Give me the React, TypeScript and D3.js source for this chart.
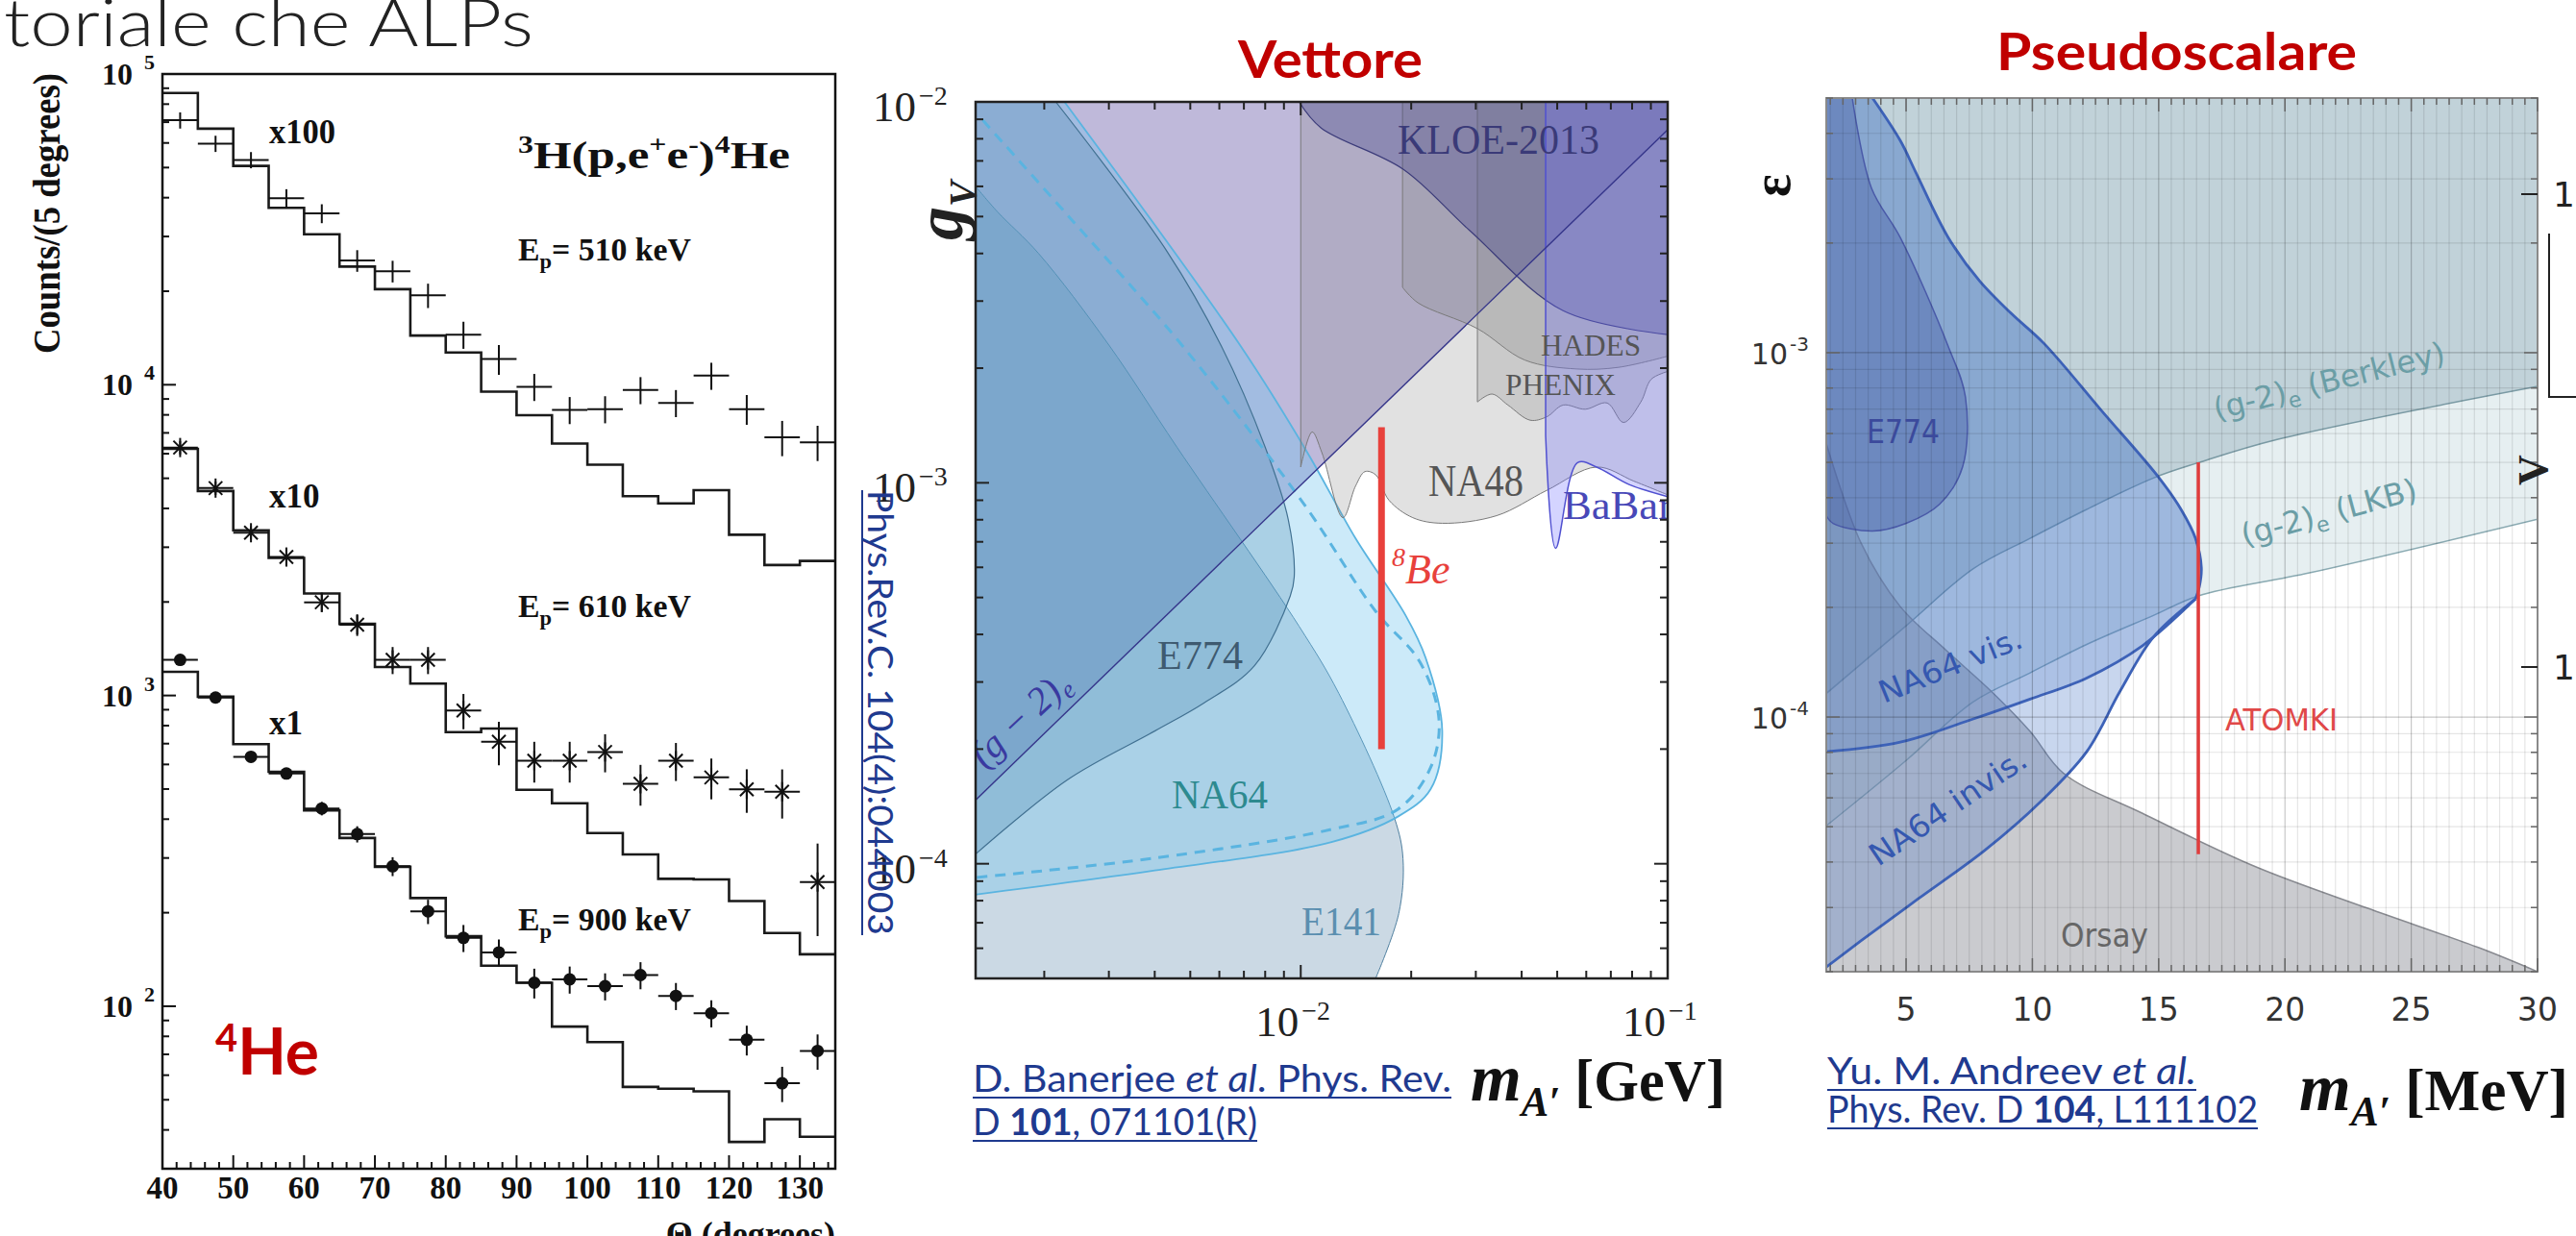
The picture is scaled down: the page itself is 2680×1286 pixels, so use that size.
import React from 'react'
import * as d3 from 'd3'

type Pt = [number, number]

const W = 2680
const H = 1286

// ---------- left panel: 3H(p,e+e-)4He angular distributions ----------
const thetaEdges = [40, 45, 50, 55, 60, 65, 70, 75, 80, 85, 90, 95, 100, 105, 110, 115, 120, 125, 130, 135]
const thetaCenters = [42.5, 47.5, 52.5, 57.5, 62.5, 67.5, 72.5, 77.5, 82.5, 87.5, 92.5, 97.5, 102.5, 107.5, 112.5, 117.5, 122.5, 127.5, 132.5]

// x100 (Ep = 510 keV)
const hist100 = [86900, 66700, 50600, 37100, 30500, 24000, 20300, 14400, 12700, 9500, 7980, 6470, 5530, 4380, 4150, 4580, 3290, 2630, 2710]
const data100 = [71000, 59700, 52900, 39800, 35600, 25100, 23200, 19400, 14500, 12100, 9850, 8300, 8350, 9620, 8740, 10700, 8350, 6770, 6530]
const err100 = [0.06, 0.06, 0.06, 0.07, 0.07, 0.08, 0.08, 0.09, 0.1, 0.11, 0.1, 0.1, 0.1, 0.1, 0.1, 0.1, 0.11, 0.13, 0.13]
// x10 (Ep = 610 keV)
const hist10 = [6220, 4550, 3400, 2770, 2130, 1700, 1235, 1092, 762, 783, 497, 450, 361, 308, 257, 256, 218, 172, 147]
const data10 = [6280, 4650, 3340, 2790, 1995, 1690, 1302, 1302, 895, 710, 617, 617, 658, 520, 617, 545, 499, 490, 251]
const err10 = [0.05, 0.05, 0.05, 0.06, 0.07, 0.08, 0.1, 0.1, 0.13, 0.16, 0.15, 0.15, 0.14, 0.15, 0.14, 0.15, 0.16, 0.18, 0.33]
// x1 (Ep = 900 keV)
const hist1 = [1192, 991, 697, 568, 427, 348, 281, 223, 168, 135, 119, 86, 76.7, 55, 54.3, 53.2, 36.6, 43.3, 38]
const data1 = [1302, 985, 635, 561, 433, 358, 282, 202, 166, 149, 119, 122, 116, 126, 108, 95, 78, 56.5, 71.8]
const err1 = [0.03, 0.03, 0.04, 0.04, 0.05, 0.06, 0.07, 0.09, 0.1, 0.1, 0.11, 0.1, 0.1, 0.1, 0.1, 0.1, 0.11, 0.13, 0.13]

// ---------- middle panel: vector (m [GeV], g_V) ----------
const g2Line: Pt[] = [[0.0013, 1.47e-4], [0.1, 8.45e-3]]
const e141Edge: Pt[] = [[0.0013, 6.0e-3], [0.00149, 5.15e-3], [0.00193, 4.0e-3], [0.003, 2.3e-3], [0.0046, 1.24e-3], [0.0099, 4.2e-4], [0.0127, 2.8e-4], [0.018, 1.32e-4], [0.019, 1.03e-4], [0.0185, 7.4e-5], [0.016, 5e-5]]
const e774Edge: Pt[] = [[0.00215, 1e-2], [0.0043, 4.08e-3], [0.00607, 2.29e-3], [0.008, 1.24e-3], [0.00925, 8.0e-4], [0.0096, 5.66e-4], [0.00936, 5.04e-4], [0.00748, 3.31e-4], [0.00547, 2.65e-4], [0.004, 2.23e-4], [0.00231, 1.66e-4], [0.0013, 1.06e-4]]
const na64Edge: Pt[] = [[0.00227, 1e-2], [0.00685, 2.29e-3], [0.01043, 1.2e-3], [0.0141, 7.15e-4], [0.0193, 4.49e-4], [0.0219, 3.47e-4], [0.0243, 2.23e-4], [0.0226, 1.57e-4], [0.0184, 1.33e-4], [0.01213, 1.14e-4], [0.004, 9.6e-5], [0.0013, 8.3e-5]]
const na64Proj: Pt[] = [[0.00136, 8.95e-3], [0.00236, 4.94e-3], [0.00476, 2.29e-3], [0.0102, 8.8e-4], [0.016, 4.6e-4], [0.0211, 3.39e-4], [0.0238, 2.4e-4], [0.0226, 1.79e-4], [0.0184, 1.39e-4], [0.0121, 1.23e-4], [0.004, 1.035e-4], [0.0013, 9.2e-5]]
const na48Edge: Pt[] = [[0.01, 1.1e-3], [0.01074, 1.36e-3], [0.01142, 1.2e-3], [0.01303, 8.1e-4], [0.0141, 9.8e-4], [0.01496, 1.07e-3], [0.016, 1.05e-3], [0.0174, 9.0e-4], [0.0202, 8.1e-4], [0.0243, 7.83e-4], [0.0342, 8.2e-4], [0.0468, 9.55e-4], [0.064, 1.1e-3], [0.0809, 1.01e-3], [0.1, 9.3e-4]]
const hadesEdge: Pt[] = [[0.01894, 3.26e-3], [0.02085, 2.97e-3], [0.0303, 2.54e-3], [0.0408, 2.1e-3], [0.0564, 1.99e-3], [0.0735, 2.01e-3], [0.1, 2.15e-3]]
const phenixEdge: Pt[] = [[0.0303, 1.63e-3], [0.0332, 1.71e-3], [0.0367, 1.6e-3], [0.0422, 1.46e-3], [0.0468, 1.49e-3], [0.0519, 1.6e-3], [0.0596, 1.56e-3], [0.0684, 1.62e-3], [0.0758, 1.44e-3], [0.0845, 1.63e-3], [0.0902, 1.87e-3], [0.1, 1.96e-3]]
const babarEdge: Pt[] = [[0.0465, 1.33e-3], [0.0495, 6.73e-4], [0.0568, 1.13e-3], [0.064, 1.1e-3], [0.0785, 9.9e-4], [0.1, 9.2e-4]]
const kloeEdge: Pt[] = [[0.0099, 1e-2], [0.01135, 8.55e-3], [0.019, 6.66e-3], [0.0289, 4.59e-3], [0.0519, 2.83e-3], [0.1, 2.45e-3]]
const be8 = { mass: 0.0166, low: 2.0e-4, high: 1.4e-3 }

// ---------- right panel: pseudoscalar (m [MeV], epsilon) ----------
const lkbEdge: Pt[] = [[1.84, 5.03e-5], [5.0, 7.6e-5], [7.65, 1.1e-4], [9.89, 1.32e-4], [12.13, 1.58e-4], [14.79, 1.9e-4], [16.57, 2.15e-4], [21.01, 2.49e-4], [30, 3.49e-4]]
const berkleyEdge: Pt[] = [[1.84, 1.16e-4], [5.0, 1.78e-4], [7.65, 2.55e-4], [9.89, 3.09e-4], [12.13, 3.71e-4], [14.79, 4.53e-4], [16.57, 4.99e-4], [19.69, 5.78e-4], [30, 8.08e-4]]
const orsayEdge: Pt[] = [[1.84, 5.64e-4], [3.21, 3.01e-4], [4.77, 2.01e-4], [6.56, 1.53e-4], [8.35, 1.18e-4], [9.91, 9.13e-5], [11.24, 7.0e-5], [14.36, 5.44e-5], [18.81, 3.89e-5], [23.25, 2.99e-5], [27.73, 2.32e-5], [30, 2.0e-5]]
const na64Big: Pt[] = [[3.67, 5.0e-3], [4.77, 3.82e-3], [5.38, 3.13e-3], [6.67, 2.07e-3], [7.92, 1.57e-3], [9.17, 1.28e-3], [10.46, 1.06e-3], [12.74, 6.93e-4], [15.02, 4.53e-4], [15.89, 3.71e-4], [16.46, 3.09e-4], [16.69, 2.57e-4], [16.61, 2.28e-4], [16.46, 2.11e-4]]
const visLine: Pt[] = [[16.46, 2.11e-4], [14.36, 1.57e-4], [12.15, 1.28e-4], [9.91, 1.12e-4], [7.66, 9.88e-5], [4.77, 8.53e-5], [1.84, 8.03e-5]]
const invisLine: Pt[] = [[16.46, 2.11e-4], [14.8, 1.66e-4], [13.48, 1.18e-4], [12.15, 8.03e-5], [10.36, 5.89e-5], [8.12, 4.31e-5], [5.45, 3.16e-5], [3.21, 2.43e-5], [1.84, 2.06e-5]]
const e774Right: Pt[] = [[2.87, 5e-3], [3.63, 2.83e-3], [4.77, 2.07e-3], [6.67, 1.04e-3], [7.35, 7.55e-4], [7.24, 4.87e-4], [6.33, 3.84e-4], [5.0, 3.4e-4], [3.67, 3.24e-4], [2.11, 3.4e-4], [1.84, 3.57e-4]]
const atomki = { mass: 16.57, low: 4.2e-5, high: 5.0e-4 }
const massTicksMeV = [5, 10, 15, 20, 25, 30]

const mantissas = [1, 2, 3, 4, 5, 6, 7, 8, 9]

function logTicks(lo: number, hi: number) {
  const out: { v: number; major: boolean }[] = []
  for (let e = Math.floor(Math.log10(lo)); e <= Math.ceil(Math.log10(hi)); e++) {
    for (const m of mantissas) {
      const v = m * Math.pow(10, e)
      if (v >= lo * 0.999 && v <= hi * 1.001) out.push({ v, major: m === 1 })
    }
  }
  return out
}

function regionMaker(xs: any, ys: any) {
  const ln = d3.line<Pt>().x((d) => xs(d[0])).y((d) => ys(d[1])).curve(d3.curveCatmullRom.alpha(0.5))
  const region = (segs: Pt[][], corners: Pt[]) => {
    let d = segs.map((s, i) => (i === 0 ? ln(s) || '' : (ln(s) || '').replace(/^M/, 'L'))).join('')
    d += corners.map((c) => `L${xs(c[0])},${ys(c[1])}`).join('')
    return d + 'Z'
  }
  return { ln, region }
}

const SERIF = 'Liberation Serif, Times New Roman, serif'
const SANS = 'DejaVu Sans, sans-serif'
const GOTHIC = 'Lato, Open Sans, sans-serif'
const NAVY = '#1f3a8f'

function LeftPanel() {
  const x = d3.scaleLinear().domain([40, 135]).range([169, 869])
  const y = d3.scaleLog().domain([30, 1e5]).range([1216, 77])
  const step = d3.line<Pt>().x((d) => x(d[0])).y((d) => y(d[1])).curve(d3.curveStepAfter)
  const series = [
    { hist: hist100, pts: data100, err: err100, marker: 'plus' },
    { hist: hist10, pts: data10, err: err10, marker: 'star' },
    { hist: hist1, pts: data1, err: err1, marker: 'dot' },
  ]
  const yt = logTicks(30, 1e5)
  const [x0, x1] = x.range()
  const [yb, ytop] = y.range()
  return (
    <g fontFamily={SERIF} fontWeight="bold" fill="#111">
      {series.map((s, si) => (
        <g key={si}>
          <path
            d={step(thetaEdges.map((e, i) => [e, s.hist[Math.min(i, s.hist.length - 1)]] as Pt)) || ''}
            fill="none"
            stroke="#1a1a1a"
            strokeWidth={2.6}
          />
          {thetaCenters.map((t, i) => {
            const cx = x(t)
            const cy = y(s.pts[i])
            return (
              <g key={i} stroke="#111" strokeWidth={2}>
                <line x1={x(t - 2.5)} x2={x(t + 2.5)} y1={cy} y2={cy} />
                <line x1={cx} x2={cx} y1={y(s.pts[i] * (1 + s.err[i]))} y2={y(s.pts[i] * (1 - s.err[i]))} />
                {s.marker === 'star' && (
                  <>
                    <line x1={cx} x2={cx} y1={cy - 10} y2={cy + 10} />
                    <line x1={cx - 7} y1={cy - 7} x2={cx + 7} y2={cy + 7} />
                    <line x1={cx - 7} y1={cy + 7} x2={cx + 7} y2={cy - 7} />
                  </>
                )}
                {s.marker === 'dot' && <circle cx={cx} cy={cy} r={6.5} fill="#111" stroke="none" />}
              </g>
            )
          })}
        </g>
      ))}
      <rect x={x0} y={ytop} width={x1 - x0} height={yb - ytop} fill="none" stroke="#111" strokeWidth={2.5} />
      {yt.map((t, i) => (
        <line key={i} x1={x0} x2={x0 + (t.major ? 14 : 7)} y1={y(t.v)} y2={y(t.v)} stroke="#111" strokeWidth={2} />
      ))}
      {d3.range(40, 135, 2).map((v) => (
        <line key={v} x1={x(v)} x2={x(v)} y1={yb} y2={yb - (v % 10 === 0 ? 14 : 7)} stroke="#111" strokeWidth={2} />
      ))}
      {yt.filter((t) => t.major).map((t) => (
        <g key={t.v}>
          <text x={138} y={y(t.v) + 11} fontSize={32} textAnchor="end">10</text>
          <text x={150} y={y(t.v) - 5} fontSize={22}>{Math.round(Math.log10(t.v))}</text>
        </g>
      ))}
      {d3.range(40, 131, 10).map((v) => (
        <text key={v} x={x(v)} y={1247} fontSize={33} textAnchor="middle">{v}</text>
      ))}
      <text transform="translate(62,222) rotate(-90)" fontSize={40} textAnchor="middle" textLength={292} lengthAdjust="spacingAndGlyphs">
        Counts/(5 degrees)
      </text>
      <text x={869} y={1296} fontSize={36} textAnchor="end">Θ (degrees)</text>
      <text x={280} y={149} fontSize={35} textLength={69} lengthAdjust="spacingAndGlyphs">x100</text>
      <text x={280} y={528} fontSize={35}>x10</text>
      <text x={280} y={764} fontSize={35}>x1</text>
      <text x={539} y={175} fontSize={40} textLength={283} lengthAdjust="spacingAndGlyphs">
        <tspan fontSize={25} dy={-16}>3</tspan>
        <tspan dy={16}>H(p,e</tspan>
        <tspan fontSize={25} dy={-16}>+</tspan>
        <tspan dy={16}>e</tspan>
        <tspan fontSize={25} dy={-16}>-</tspan>
        <tspan dy={16}>)</tspan>
        <tspan fontSize={25} dy={-16}>4</tspan>
        <tspan dy={16}>He</tspan>
      </text>
      {[
        { t: 'Ep= 510 keV', yy: 271 },
        { t: 'Ep= 610 keV', yy: 642 },
        { t: 'Ep= 900 keV', yy: 968 },
      ].map((l) => (
        <text key={l.t} x={539} y={l.yy} fontSize={33} textLength={180} lengthAdjust="spacingAndGlyphs">
          E<tspan fontSize={22} dy={8}>p</tspan>
          <tspan dy={-8}>{l.t.slice(2)}</tspan>
        </text>
      ))}
      <text x={224} y={1118} fontFamily={GOTHIC} fontWeight="bold" fill="#c00000" fontSize={66} textLength={108} lengthAdjust="spacingAndGlyphs">
        <tspan fontSize={40} dy={-24}>4</tspan>
        <tspan dy={24}>He</tspan>
      </text>
    </g>
  )
}

function MiddlePanel() {
  const x = d3.scaleLog().domain([0.0013, 0.1]).range([1015, 1735])
  const y = d3.scaleLog().domain([5e-5, 1e-2]).range([1018, 106])
  const { ln, region } = regionMaker(x, y)
  const [x0, x1] = x.range()
  const [yb, yt] = y.range()
  const XL = 0.001
  const XR = 0.12
  const YT = 0.012
  const YB = 4e-5
  const xt = logTicks(0.0013, 0.1)
  const ytk = logTicks(5e-5, 1e-2)
  const sup = (v: number) => '−' + Math.round(-Math.log10(v))
  return (
    <g>
      <defs>
        <clipPath id="clipMid">
          <rect x={x0} y={yt} width={x1 - x0} height={yb - yt} />
        </clipPath>
      </defs>
      <rect x={x0} y={yt} width={x1 - x0} height={yb - yt} fill="#fff" />
      <g clipPath="url(#clipMid)">
        <path d={region([g2Line], [[0.1, YT], [XL, YT]])} fill="#7f73b5" fillOpacity={0.5} />
        <path d={region([e141Edge], [[XL, YB], [XL, 6e-3]])} fill="#6f97b3" fillOpacity={0.36} stroke="#4f7f9f" strokeWidth={1} />
        <path d={region([e774Edge], [[XL, 1.06e-4], [XL, YT], [0.00215, YT]])} fill="#2f5f86" fillOpacity={0.25} stroke="#2a4560" strokeWidth={1.2} />
        <path d={region([na64Edge], [[XL, 8.3e-5], [XL, YT], [0.00227, YT]])} fill="#6ec3ee" fillOpacity={0.35} stroke="#5ab4e0" strokeWidth={1.8} />
        <path d={ln(na64Proj) || ''} fill="none" stroke="#5ab4e0" strokeWidth={3} strokeDasharray="11 8" />
        <path d={region([na48Edge], [[XR, 9.3e-4], [XR, YT], [0.01, YT]])} fill="#888" fillOpacity={0.25} stroke="#7a7a7a" strokeWidth={1} />
        <path d={region([hadesEdge], [[XR, 2.15e-3], [XR, YT], [0.01894, YT]])} fill="#888" fillOpacity={0.25} stroke="#7a7a7a" strokeWidth={1} />
        <path d={region([phenixEdge], [[XR, 1.96e-3], [XR, YT], [0.0303, YT]])} fill="#888" fillOpacity={0.25} stroke="#7a7a7a" strokeWidth={1} />
        <path d={region([kloeEdge], [[XR, 2.45e-3], [XR, YT]])} fill="#3c3c8c" fillOpacity={0.3} stroke="#3c3c7a" strokeWidth={1.2} />
        <path d={region([babarEdge], [[XR, 9.2e-4], [XR, YT], [0.0465, YT]])} fill="#7070ff" fillOpacity={0.3} stroke="#5050d0" strokeWidth={1.5} />
        <path d={ln(g2Line) || ''} fill="none" stroke="#35358a" strokeWidth={1.4} />
        <line x1={x(be8.mass)} x2={x(be8.mass)} y1={y(be8.high)} y2={y(be8.low)} stroke="#e8413c" strokeWidth={7} />
        <g fontFamily={SERIF}>
          <text x={1454} y={160} fontSize={44} fill="#3a3a78" textLength={210} lengthAdjust="spacingAndGlyphs">KLOE-2013</text>
          <text x={1603} y={370} fontSize={31} fill="#555" textLength={104} lengthAdjust="spacingAndGlyphs">HADES</text>
          <text x={1566} y={411} fontSize={31} fill="#555" textLength={115} lengthAdjust="spacingAndGlyphs">PHENIX</text>
          <text x={1486} y={516} fontSize={46} fill="#555" textLength={99} lengthAdjust="spacingAndGlyphs">NA48</text>
          <text x={1626} y={540} fontSize={42} fill="#4848b8" textLength={114} lengthAdjust="spacingAndGlyphs">BaBar</text>
          <text x={1204} y={696} fontSize={42} fill="#3e5a70" textLength={89} lengthAdjust="spacingAndGlyphs">E774</text>
          <text x={1219} y={841} fontSize={42} fill="#2d8a8f" textLength={100} lengthAdjust="spacingAndGlyphs">NA64</text>
          <text x={1354} y={973} fontSize={42} fill="#5b8fb0" textLength={83} lengthAdjust="spacingAndGlyphs">E141</text>
          <text transform="translate(1024,800) rotate(-43)" fontSize={40} fontStyle="italic" fill="#3a3aa0">
            (g − 2)<tspan fontSize={27} dy={8}>e</tspan>
          </text>
          <text x={1448} y={607} fontSize={44} fontStyle="italic" fill="#e8413c">
            <tspan fontSize={28} dy={-18}>8</tspan>
            <tspan dy={18}>Be</tspan>
          </text>
        </g>
      </g>
      <rect x={x0} y={yt} width={x1 - x0} height={yb - yt} fill="none" stroke="#222" strokeWidth={2.5} />
      {xt.map((t, i) => (
        <g key={i} stroke="#222" strokeWidth={2}>
          <line x1={x(t.v)} x2={x(t.v)} y1={yb} y2={yb - (t.major ? 14 : 8)} />
          <line x1={x(t.v)} x2={x(t.v)} y1={yt} y2={yt + (t.major ? 14 : 8)} />
        </g>
      ))}
      {ytk.map((t, i) => (
        <g key={i} stroke="#222" strokeWidth={2}>
          <line x1={x0} x2={x0 + (t.major ? 14 : 8)} y1={y(t.v)} y2={y(t.v)} />
          <line x1={x1} x2={x1 - (t.major ? 14 : 8)} y1={y(t.v)} y2={y(t.v)} />
        </g>
      ))}
      <g fontFamily={SERIF} fill="#222">
        {ytk.filter((t) => t.major).map((t) => (
          <g key={t.v}>
            <text x={953} y={y(t.v) + 20} fontSize={45} textAnchor="end">10</text>
            <text x={956} y={y(t.v) + 3} fontSize={28}>{sup(t.v)}</text>
          </g>
        ))}
        {xt.filter((t) => t.major).map((t) => (
          <g key={t.v}>
            <text x={x(t.v) - 2} y={1078} fontSize={45} textAnchor="end">10</text>
            <text x={x(t.v) + 1} y={1061} fontSize={28}>{sup(t.v)}</text>
          </g>
        ))}
        <text transform="translate(1001,250) rotate(-90)" fontWeight="bold" fontStyle="italic" fontSize={70}>
          g<tspan fontSize={40} dy={14}>V</tspan>
        </text>
      </g>
    </g>
  )
}

function RightPanel() {
  const x = d3.scaleLinear().domain([1.84, 30]).range([1900, 2640])
  const y = d3.scaleLog().domain([2e-5, 5e-3]).range([1011, 102])
  const { ln, region } = regionMaker(x, y)
  const [x0, x1] = x.range()
  const [yb, yt] = y.range()
  const XL = 1.5
  const XR = 31
  const YT = 6e-3
  const YB = 1.8e-5
  const ytk = logTicks(2e-5, 5e-3)
  const halfMeV = d3.range(2, 30.01, 0.5)
  return (
    <g>
      <defs>
        <clipPath id="clipRight">
          <rect x={x0} y={yt} width={x1 - x0} height={yb - yt} />
        </clipPath>
      </defs>
      <rect x={x0} y={yt} width={x1 - x0} height={yb - yt} fill="#fff" />
      <g clipPath="url(#clipRight)">
        <path d={region([lkbEdge], [[XR, 3.49e-4], [XR, YT], [XL, YT], [XL, 5.03e-5]])} fill="#9dc0c8" fillOpacity={0.26} stroke="#8aaab2" strokeWidth={1.5} />
        <path d={region([berkleyEdge], [[XR, 8.08e-4], [XR, YT], [XL, YT], [XL, 1.16e-4]])} fill="#7396a8" fillOpacity={0.32} stroke="#7a9aa4" strokeWidth={1.5} />
        <path d={region([orsayEdge], [[XR, 2e-5], [XR, YB], [XL, YB], [XL, 5.64e-4]])} fill="#8a8c94" fillOpacity={0.45} stroke="#888a90" strokeWidth={1.5} />
        <path d={region([na64Big, invisLine], [[XL, 2.06e-5], [XL, YT], [3.67, YT]])} fill="#4a78c8" fillOpacity={0.3} />
        <path d={region([na64Big, visLine], [[XL, 8.03e-5], [XL, YT], [3.67, YT]])} fill="#4a78c8" fillOpacity={0.22} />
        <path d={region([e774Right], [[XL, 3.57e-4], [XL, YT], [2.87, YT]])} fill="#3a4fa0" fillOpacity={0.35} stroke="#4a5aa8" strokeWidth={1.5} />
        {[na64Big, visLine, invisLine].map((s, i) => (
          <path key={i} d={ln(s) || ''} fill="none" stroke="#3d62b8" strokeWidth={2.8} />
        ))}
        {halfMeV.map((v) => (
          <line key={v} x1={x(v)} x2={x(v)} y1={yt} y2={yb} stroke="#000" strokeOpacity={v % 5 === 0 ? 0.22 : 0.1} strokeWidth={1.2} />
        ))}
        {ytk.map((t, i) => (
          <line key={i} x1={x0} x2={x1} y1={y(t.v)} y2={y(t.v)} stroke="#000" strokeOpacity={t.major ? 0.22 : 0.1} strokeWidth={1.2} />
        ))}
        <line x1={x(atomki.mass)} x2={x(atomki.mass)} y1={y(atomki.high)} y2={y(atomki.low)} stroke="#e03c3c" strokeWidth={3.5} />
        <g fontFamily={SANS}>
          <text x={1942} y={461} fontSize={34} fill="#3b4a9c" textLength={76} lengthAdjust="spacingAndGlyphs">E774</text>
          <text transform="translate(2306,437) rotate(-14)" fontSize={32} fill="#6b9ea6" textLength={247} lengthAdjust="spacingAndGlyphs">
            (g-2)<tspan fontSize={22} dy={7}>e</tspan><tspan dy={-7}> (Berkley)</tspan>
          </text>
          <text transform="translate(2335,568) rotate(-15)" fontSize={32} fill="#6b9ea6" textLength={188} lengthAdjust="spacingAndGlyphs">
            (g-2)<tspan fontSize={22} dy={7}>e</tspan><tspan dy={-7}> (LKB)</tspan>
          </text>
          <text transform="translate(1960,732) rotate(-22)" fontSize={32} fill="#3558b0" textLength={158} lengthAdjust="spacingAndGlyphs">NA64 vis.</text>
          <text transform="translate(1954,902) rotate(-34)" fontSize={32} fill="#3558b0" textLength={190} lengthAdjust="spacingAndGlyphs">NA64 invis.</text>
          <text x={2144} y={985} fontSize={34} fill="#666" textLength={91} lengthAdjust="spacingAndGlyphs">Orsay</text>
          <text x={2315} y={760} fontSize={32} fill="#e04848" textLength={117} lengthAdjust="spacingAndGlyphs">ATOMKI</text>
        </g>
      </g>
      <rect x={x0} y={yt} width={x1 - x0} height={yb - yt} fill="none" stroke="#8a8a8a" strokeWidth={2} />
      {halfMeV.map((v) => (
        <g key={v} stroke="#666" strokeWidth={1.5}>
          <line x1={x(v)} x2={x(v)} y1={yb} y2={yb - (v % 5 === 0 ? 14 : 7)} />
          <line x1={x(v)} x2={x(v)} y1={yt} y2={yt + (v % 5 === 0 ? 14 : 7)} />
        </g>
      ))}
      {ytk.map((t, i) => (
        <g key={i} stroke="#666" strokeWidth={1.5}>
          <line x1={x0} x2={x0 + (t.major ? 14 : 7)} y1={y(t.v)} y2={y(t.v)} />
          <line x1={x1} x2={x1 - (t.major ? 14 : 7)} y1={y(t.v)} y2={y(t.v)} />
        </g>
      ))}
      <g fontFamily={SANS} fill="#333">
        {ytk.filter((t) => t.major).map((t) => (
          <g key={t.v}>
            <text x={1860} y={y(t.v) + 12} fontSize={30} textAnchor="end">10</text>
            <text x={1862} y={y(t.v) - 2} fontSize={20}>{'-' + Math.round(-Math.log10(t.v))}</text>
          </g>
        ))}
        {massTicksMeV.map((v) => (
          <text key={v} x={x(v)} y={1062} fontSize={33} textAnchor="middle">{v}</text>
        ))}
      </g>
      <text transform="translate(1862,205) rotate(-90)" fontFamily={SERIF} fontWeight="bold" fontSize={56} fill="#111">ε</text>
      {/* pieces of the neighbouring figure cut by the slide edge */}
      <g stroke="#222" strokeWidth={2}>
        <line x1={2623} x2={2640} y1={202} y2={202} />
        <line x1={2623} x2={2640} y1={694} y2={694} />
        <polyline points="2652,243 2652,413 2680,413" fill="none" />
      </g>
      <g fontFamily={SANS} fontSize={36} fill="#222">
        <text x={2656} y={215}>10</text>
        <text x={2656} y={707}>10</text>
        <text transform="translate(2650,489) rotate(-90)" fontFamily={SERIF} fontWeight="bold" fontSize={44} textAnchor="middle">V</text>
      </g>
    </g>
  )
}

function Underlined(props: { x: number; y: number; len: number; size: number; children: any }) {
  return (
    <g>
      <text x={props.x} y={props.y} fontFamily={GOTHIC} fontSize={props.size} fill={NAVY} textLength={props.len} lengthAdjust="spacingAndGlyphs">
        {props.children}
      </text>
      <line x1={props.x} x2={props.x + props.len} y1={props.y + 6} y2={props.y + 6} stroke={NAVY} strokeWidth={2} />
    </g>
  )
}

function SlideText() {
  return (
    <g>
      <text x={4} y={48} fontFamily={GOTHIC} fontWeight={300} fontSize={68} fill="#222" textLength={551} lengthAdjust="spacingAndGlyphs">
        toriale che ALPs
      </text>
      <text x={1288} y={81} fontFamily={GOTHIC} fontWeight="bold" fontSize={54} fill="#c00000" textLength={192} lengthAdjust="spacingAndGlyphs">Vettore</text>
      <text x={2077} y={73} fontFamily={GOTHIC} fontWeight="bold" fontSize={54} fill="#c00000" textLength={375} lengthAdjust="spacingAndGlyphs">Pseudoscalare</text>

      <Underlined x={1012} y={1136} len={498} size={38}>
        D. Banerjee <tspan fontStyle="italic">et al</tspan>. Phys. Rev.
      </Underlined>
      <Underlined x={1012} y={1181} len={296} size={38}>
        D <tspan fontWeight="bold">101</tspan>, 071101(R)
      </Underlined>
      <Underlined x={1901} y={1128} len={384} size={38}>
        Yu. M. Andreev <tspan fontStyle="italic">et al.</tspan>
      </Underlined>
      <Underlined x={1901} y={1168} len={448} size={38}>
        Phys. Rev. D <tspan fontWeight="bold">104</tspan>, L111102
      </Underlined>

      <g transform="translate(903,510) rotate(90)">
        <text x={0} y={0} fontFamily={GOTHIC} fontSize={37} fill={NAVY} textLength={463} lengthAdjust="spacingAndGlyphs">
          Phys.Rev.C. 104(4):044003
        </text>
        <line x1={0} x2={463} y1={6} y2={6} stroke={NAVY} strokeWidth={2} />
      </g>

      <text x={1530} y={1145} fontFamily={SERIF} fontWeight="bold" fill="#111" textLength={265} lengthAdjust="spacingAndGlyphs">
        <tspan fontStyle="italic" fontSize={70}>m</tspan>
        <tspan fontStyle="italic" fontSize={44} dy={16}>A′</tspan>
        <tspan fontSize={62} dy={-16}> [GeV]</tspan>
      </text>
      <text x={2392} y={1155} fontFamily={SERIF} fontWeight="bold" fill="#111" textLength={280} lengthAdjust="spacingAndGlyphs">
        <tspan fontStyle="italic" fontSize={70}>m</tspan>
        <tspan fontStyle="italic" fontSize={44} dy={16}>A′</tspan>
        <tspan fontSize={62} dy={-16}> [MeV]</tspan>
      </text>
    </g>
  )
}

export default function App() {
  return (
    <svg
      width={W}
      height={H}
      viewBox={`0 0 ${W} ${H}`}
      style={{ position: 'absolute', left: 0, top: 0, background: '#fff' }}
    >
      <rect width={W} height={H} fill="#fff" />
      <LeftPanel />
      <MiddlePanel />
      <RightPanel />
      <SlideText />
    </svg>
  )
}
